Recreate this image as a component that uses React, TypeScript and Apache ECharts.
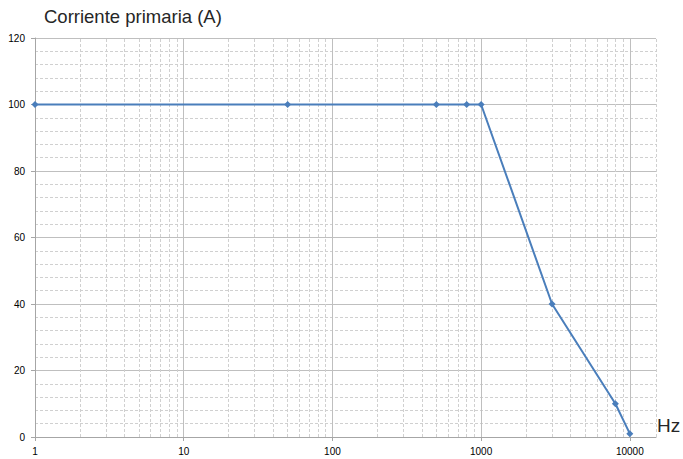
import React, { useEffect, useRef } from "react";
import * as echarts from "echarts";

const freqs = [1, 50, 500, 800, 1000, 3000, 8000, 10000];
const currents = [100, 100, 100, 100, 100, 40, 10, 1];
const minorFreqs = [
  2, 3, 4, 5, 6, 7, 8, 9,
  20, 30, 40, 50, 60, 70, 80, 90,
  200, 300, 400, 500, 600, 700, 800, 900,
  2000, 3000, 4000, 5000, 6000, 7000, 8000, 9000,
];
const xMajorLabels = [1, 10, 100, 1000, 10000];
const xMin = 1;
const xMax = 15000;
const yMin = 0;
const yMax = 120;
const yStep = 20;
const titleText = "Corriente primaria (A)";
const xUnit = "Hz";

export default function App() {
  const ref = useRef<HTMLDivElement>(null);
  useEffect(() => {
    if (!ref.current) return;
    const chart = echarts.init(ref.current, undefined, { renderer: "svg" });
    const font = "'Liberation Sans', Arial, sans-serif";
    chart.setOption({
      animation: false,
      backgroundColor: "#ffffff",
      textStyle: { fontFamily: font },
      grid: { left: 35, right: 27, top: 38, bottom: 22, containLabel: false },
      graphic: [
        {
          type: "text",
          left: 44,
          top: 7,
          style: { text: titleText, font: `18.5px ${font}`, fill: "#262626" },
        },
        {
          type: "text",
          left: 657,
          top: 416,
          style: { text: xUnit, font: `19px ${font}`, fill: "#262626" },
        },
      ],
      xAxis: {
        type: "log",
        logBase: 10,
        min: xMin,
        max: xMax,
        interval: 1,
        axisLine: { show: true, lineStyle: { color: "#a6a6a6", width: 1 } },
        axisTick: { show: true, length: 4, lineStyle: { color: "#a6a6a6" } },
        axisLabel: {
          color: "#000000",
          fontSize: 10,
          margin: 9,
          showMaxLabel: false,
          formatter: (v: number) => (xMajorLabels.includes(Math.round(v)) ? String(Math.round(v)) : ""),
        },
        splitLine: {
          show: true,
          showMinLine: false,
          showMaxLine: false,
          lineStyle: { color: "#bfbfbf", width: 1 },
        },
      },
      yAxis: {
        type: "value",
        min: yMin,
        max: yMax,
        interval: yStep,
        axisLine: { show: true, lineStyle: { color: "#a6a6a6", width: 1 } },
        axisTick: { show: true, length: 4, lineStyle: { color: "#a6a6a6" } },
        axisLabel: { color: "#000000", fontSize: 10, margin: 10 },
        splitLine: { show: true, lineStyle: { color: "#bfbfbf", width: 1 } },
        minorTick: { show: false, splitNumber: 5 },
        minorSplitLine: {
          show: true,
          lineStyle: { color: "#d0d0d0", width: 1, type: [3, 2] },
        },
      },
      series: [
        {
          type: "line",
          z: 1,
          silent: true,
          data: [[xMin, yMin]],
          symbol: "none",
          lineStyle: { opacity: 0 },
          markLine: {
            silent: true,
            symbol: ["none", "none"],
            label: { show: false },
            lineStyle: { color: "#d0d0d0", width: 1, type: [3, 2] },
            data: [...minorFreqs, xMax].map((v) => ({ xAxis: v })),
          },
        },
        {
          type: "line",
          z: 5,
          data: freqs.map((f, i) => [f, currents[i]]),
          symbol: "diamond",
          symbolSize: 7,
          showAllSymbol: true,
          lineStyle: { color: "#4a7ebb", width: 2 },
          itemStyle: { color: "#4a7ebb" },
        },
      ],
    });
    return () => chart.dispose();
  }, []);
  return <div ref={ref} style={{ width: 683, height: 459, position: "absolute", left: 0, top: 0 }} />;
}
